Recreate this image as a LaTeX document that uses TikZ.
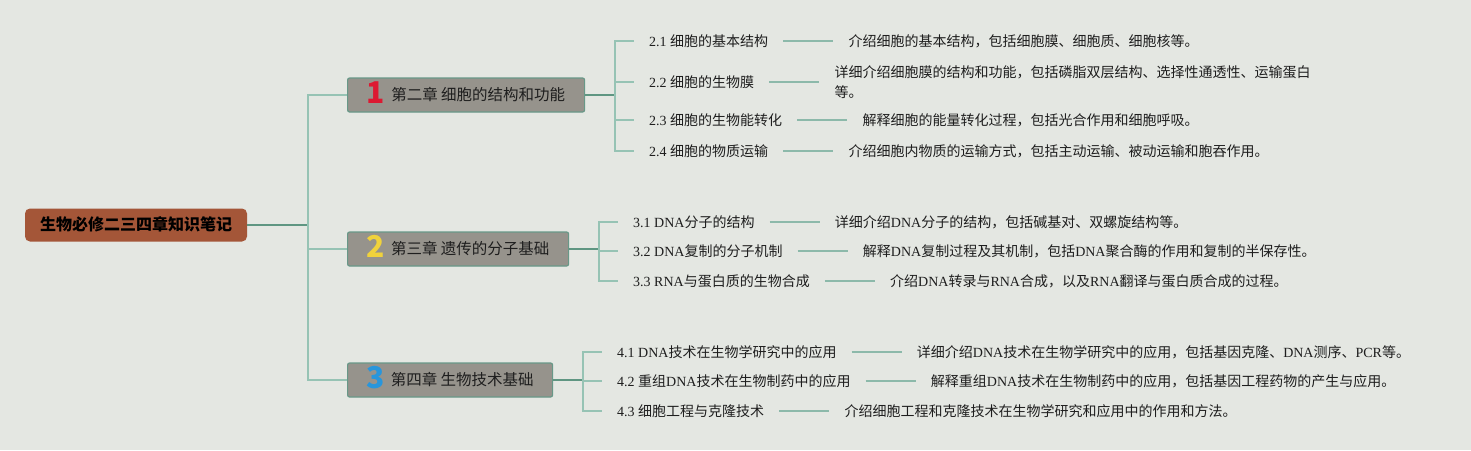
\documentclass[tikz,border=0pt]{standalone}
\usepackage{fontspec}
\setmainfont{Noto Sans CJK SC}
\newfontfamily\serifpart{Liberation Serif}
\usetikzlibrary{positioning}
\definecolor{bgcol}{RGB}{228,231,226}
\definecolor{rootfill}{RGB}{164,86,56}
\definecolor{chapfill}{RGB}{150,147,140}
\definecolor{chapline}{RGB}{104,152,136}
\definecolor{stemcol}{RGB}{95,150,130}
\definecolor{twigcol}{RGB}{150,195,180}
\definecolor{leafcol}{RGB}{140,185,170}
\definecolor{txtcol}{RGB}{30,30,30}
\definecolor{numred}{RGB}{220,25,50}
\definecolor{numyellow}{RGB}{240,210,60}
\definecolor{numblue}{RGB}{40,150,220}
\newcommand\eng[1]{{\serifpart #1}}
\newcommand\chapnum[2]{\raisebox{-3pt}{\color{#1}\fontsize{30}{30}\selectfont\bfseries #2}\hspace{6pt}}
\tikzset{
  rootbox/.style={fill=rootfill,rounded corners=5pt,minimum width=222pt,minimum height=33pt,
    inner sep=0pt,text=black,font=\fontsize{16}{16}\selectfont\bfseries,text height=12.5pt,text depth=2pt},
  chapbox/.style={fill=chapfill,draw=chapline,line width=1.2pt,rounded corners=2pt,anchor=west,
    minimum height=34pt,inner sep=0pt,text=txtcol,font=\fontsize{15.5}{15.5}\selectfont,
    text height=12pt,text depth=2pt},
  subitem/.style={anchor=west,inner xsep=15pt,inner ysep=0pt,text=txtcol,
    font=\fontsize{14}{14}\selectfont,text height=12.6pt,text depth=2pt},
  descitem/.style={inner xsep=15pt,inner ysep=0pt,text=txtcol,align=left,
    font=\fontsize{14}{20}\selectfont,text height=12.6pt,text depth=2pt},
  stem/.style={draw=stemcol,line width=2pt},
  twig/.style={draw=twigcol,line width=1.5pt},
  leaf/.style={draw=leafcol,line width=2pt},
}
\begin{document}
\begin{tikzpicture}[x=1pt,y=-1pt,node distance=50pt]
\fill[bgcol] (0,0) rectangle (1471,450);
\useasboundingbox (0,0) rectangle (1471,450);
%%
  \node (root) at (136,225) [rootbox] {生物必修二三四章知识笔记};

  \node (ch1) at (347,95) [chapbox,minimum width=237pt] {\chapnum{numred}{1}第二章 细胞的结构和功能};
  \node (ch2) at (347,249) [chapbox,minimum width=221pt] {\chapnum{numyellow}{2}第三章 遗传的分子基础};
  \node (ch3) at (347,380) [chapbox,minimum width=205pt] {\chapnum{numblue}{3}第四章 生物技术基础};

  \node (s21) at (634,41) [subitem] {\eng{2.1 }细胞的基本结构};
  \node (s22) at (634,82) [subitem] {\eng{2.2 }细胞的生物膜};
  \node (s23) at (634,120) [subitem] {\eng{2.3 }细胞的生物能转化};
  \node (s24) at (634,151) [subitem] {\eng{2.4 }细胞的物质运输};
  \node (s31) at (618,222) [subitem] {\eng{3.1 DNA}分子的结构};
  \node (s32) at (618,251) [subitem] {\eng{3.2 DNA}复制的分子机制};
  \node (s33) at (618,281) [subitem] {\eng{3.3 RNA}与蛋白质的生物合成};
  \node (s41) at (602,352) [subitem] {\eng{4.1 DNA}技术在生物学研究中的应用};
  \node (s42) at (602,381) [subitem] {\eng{4.2 }重组\eng{DNA}技术在生物制药中的应用};
  \node (s43) at (602,411) [subitem] {\eng{4.3 }细胞工程与克隆技术};

  \node (d21) [descitem,right=of s21] {介绍细胞的基本结构，包括细胞膜、细胞质、细胞核等。};
  \node (d22) [descitem,text height=32.6pt,right=of s22] {详细介绍细胞膜的结构和功能，包括磷脂双层结构、选择性通透性、运输蛋白\\等。};
  \node (d23) [descitem,right=of s23] {解释细胞的能量转化过程，包括光合作用和细胞呼吸。};
  \node (d24) [descitem,right=of s24] {介绍细胞内物质的运输方式，包括主动运输、被动运输和胞吞作用。};
  \node (d31) [descitem,right=of s31] {详细介绍\eng{DNA}分子的结构，包括碱基对、双螺旋结构等。};
  \node (d32) [descitem,right=of s32] {解释\eng{DNA}复制过程及其机制，包括\eng{DNA}聚合酶的作用和复制的半保存性。};
  \node (d33) [descitem,right=of s33] {介绍\eng{DNA}转录与\eng{RNA}合成，以及\eng{RNA}翻译与蛋白质合成的过程。};
  \node (d41) [descitem,right=of s41] {详细介绍\eng{DNA}技术在生物学研究中的应用，包括基因克隆、\eng{DNA}测序、\eng{PCR}等。};
  \node (d42) [descitem,right=of s42] {解释重组\eng{DNA}技术在生物制药中的应用，包括基因工程药物的产生与应用。};
  \node (d43) [descitem,right=of s43] {介绍细胞工程和克隆技术在生物学研究和应用中的作用和方法。};

  \coordinate (j0) at ([xshift=61pt]root.east);
  \coordinate (j1) at ([xshift=30pt]ch1.east);
  \coordinate (j2) at ([xshift=30pt]ch2.east);
  \coordinate (j3) at ([xshift=30pt]ch3.east);

  \draw [stem] (root.east) -- (j0);
  \foreach \c in {ch1,ch2,ch3} \draw [twig] (j0) |- (\c.west);
  \draw [stem] (ch1.east) -- (j1);
  \draw [stem] (ch2.east) -- (j2);
  \draw [stem] (ch3.east) -- (j3);
  \foreach \s in {s21,s22,s23,s24} \draw [twig] (j1) |- (\s.west);
  \foreach \s in {s31,s32,s33} \draw [twig] (j2) |- (\s.west);
  \foreach \s in {s41,s42,s43} \draw [twig] (j3) |- (\s.west);
  \foreach \n in {21,22,23,24,31,32,33,41,42,43} \draw [leaf] (s\n.east) -- (d\n.west);
%
\end{tikzpicture}
\end{document}
